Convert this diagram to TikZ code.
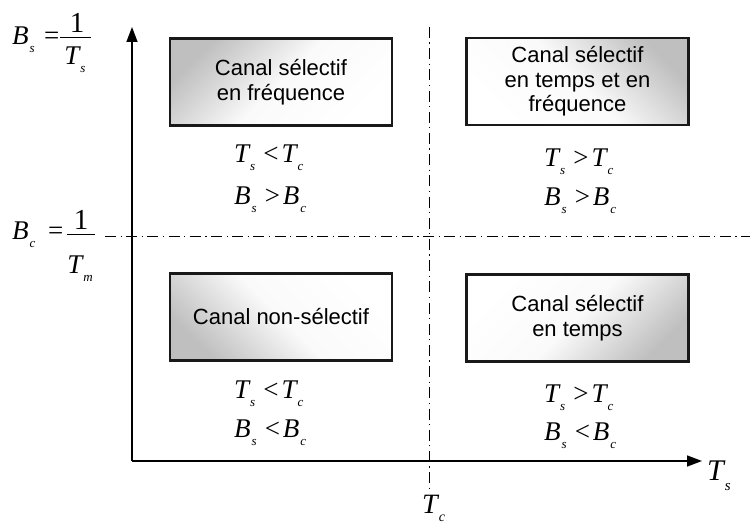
\documentclass[tikz,border=0pt]{standalone}
\usepackage{fontspec}
\setmainfont{Liberation Sans}
\newfontfamily\tms{Liberation Serif}
\usetikzlibrary{arrows.meta}
\newcommand\vv[4][13]{{\itshape #2}\kern1pt\raisebox{-#4}{\fontsize{#1}{#1}\selectfont\itshape #3}}
\newcommand\rel[5]{\vv{#1}{#2}{8pt}\hspace{8pt}#3\hspace{3pt}\vv{#4}{#5}{8pt}}
\begin{document}
\begin{tikzpicture}[x=1pt,y=-1pt,
  box/.style={draw=black!90,line width=2.3pt,minimum width=222pt,minimum height=87pt,
    inner sep=0pt,align=center,font=\fontsize{22}{24.5}\selectfont,
    top color=black!25,bottom color=white,middle color=black!2},
  mth/.style={font=\tms\fontsize{27}{27}\selectfont,inner sep=0pt,anchor=base west},
  axisline/.style={line width=1.4pt,-{Triangle[length=15pt,width=11pt]}},
  dd/.style={line width=0.9pt,dash pattern=on 11pt off 4.5pt on 1.2pt off 4.5pt},
  barline/.style={line width=0.9pt}]
\useasboundingbox (0,0) rectangle (750,526);
% axes
\coordinate (O) at (132,461);
\coordinate (ytop) at (132,27);
\coordinate (xend) at (702,461);
\draw[axisline] (O) -- (ytop);
\draw[axisline] (O) -- (xend);
% dash-dot lines
\coordinate (vtop) at (429,27);
\coordinate (vbot) at (429,490);
\coordinate (hl) at (105,236);
\coordinate (hr) at (750,236);
\draw[dd] (vtop) -- (vbot);
\draw[dd] (hl) -- (hr);
% boxes
\node[box,shading angle=45] (tl) at (281,82) {Canal sélectif\\en fréquence};
\node[box,shading angle=-45] (tr) at (577.5,81.5) {Canal sélectif\\en temps et en\\fréquence};
\node[box,shading angle=135] (bl) at (281,317) {Canal non-sélectif};
\node[box,shading angle=-135] (br) at (577.5,318) {Canal sélectif\\en temps};
% inequalities
\node[mth] (tla) at (234,163) {\rel{T}{s}{<}{T}{c}};
\node[mth] (tlb) at (234,205) {\rel{B}{s}{>}{B}{c}};
\node[mth] (tra) at (544,167) {\rel{T}{s}{>}{T}{c}};
\node[mth] (trb) at (544,206) {\rel{B}{s}{>}{B}{c}};
\node[mth] (bla) at (234,399) {\rel{T}{s}{<}{T}{c}};
\node[mth] (blb) at (234,438) {\rel{B}{s}{<}{B}{c}};
\node[mth] (bra) at (544,403) {\rel{T}{s}{>}{T}{c}};
\node[mth] (brb) at (544,441) {\rel{B}{s}{<}{B}{c}};
% left definitions
\node[mth] (bs) at (12,45) {\vv{B}{s}{8pt}};
\node[mth] (eqs) at (44,45) {=};
\node[mth,anchor=base,font=\tms\fontsize{29}{29}\selectfont] (ones) at (77,33) {1};
\node[mth,anchor=base] (tsd) at (75,65) {\vv{T}{s}{8pt}};
\draw[barline] (60,37) -- (91,37);
\node[mth] (bc) at (12,240) {\vv{B}{c}{8pt}};
\node[mth] (eqc) at (48,240) {=};
\node[mth,anchor=base,font=\tms\fontsize{29}{29}\selectfont] (onec) at (81,230) {1};
\node[mth,anchor=base] (tmd) at (80,274) {\vv{T}{m}{8pt}};
\draw[barline] (67,234) -- (95,234);
% axis labels
\node[mth,font=\tms\fontsize{30}{30}\selectfont] (tsl) at (707,480) {\vv[15]{T}{s}{10pt}};
\node[mth,font=\tms\fontsize{28}{28}\selectfont] (tcl) at (422,514) {\vv[14]{T}{c}{7pt}};
\end{tikzpicture}
\end{document}
